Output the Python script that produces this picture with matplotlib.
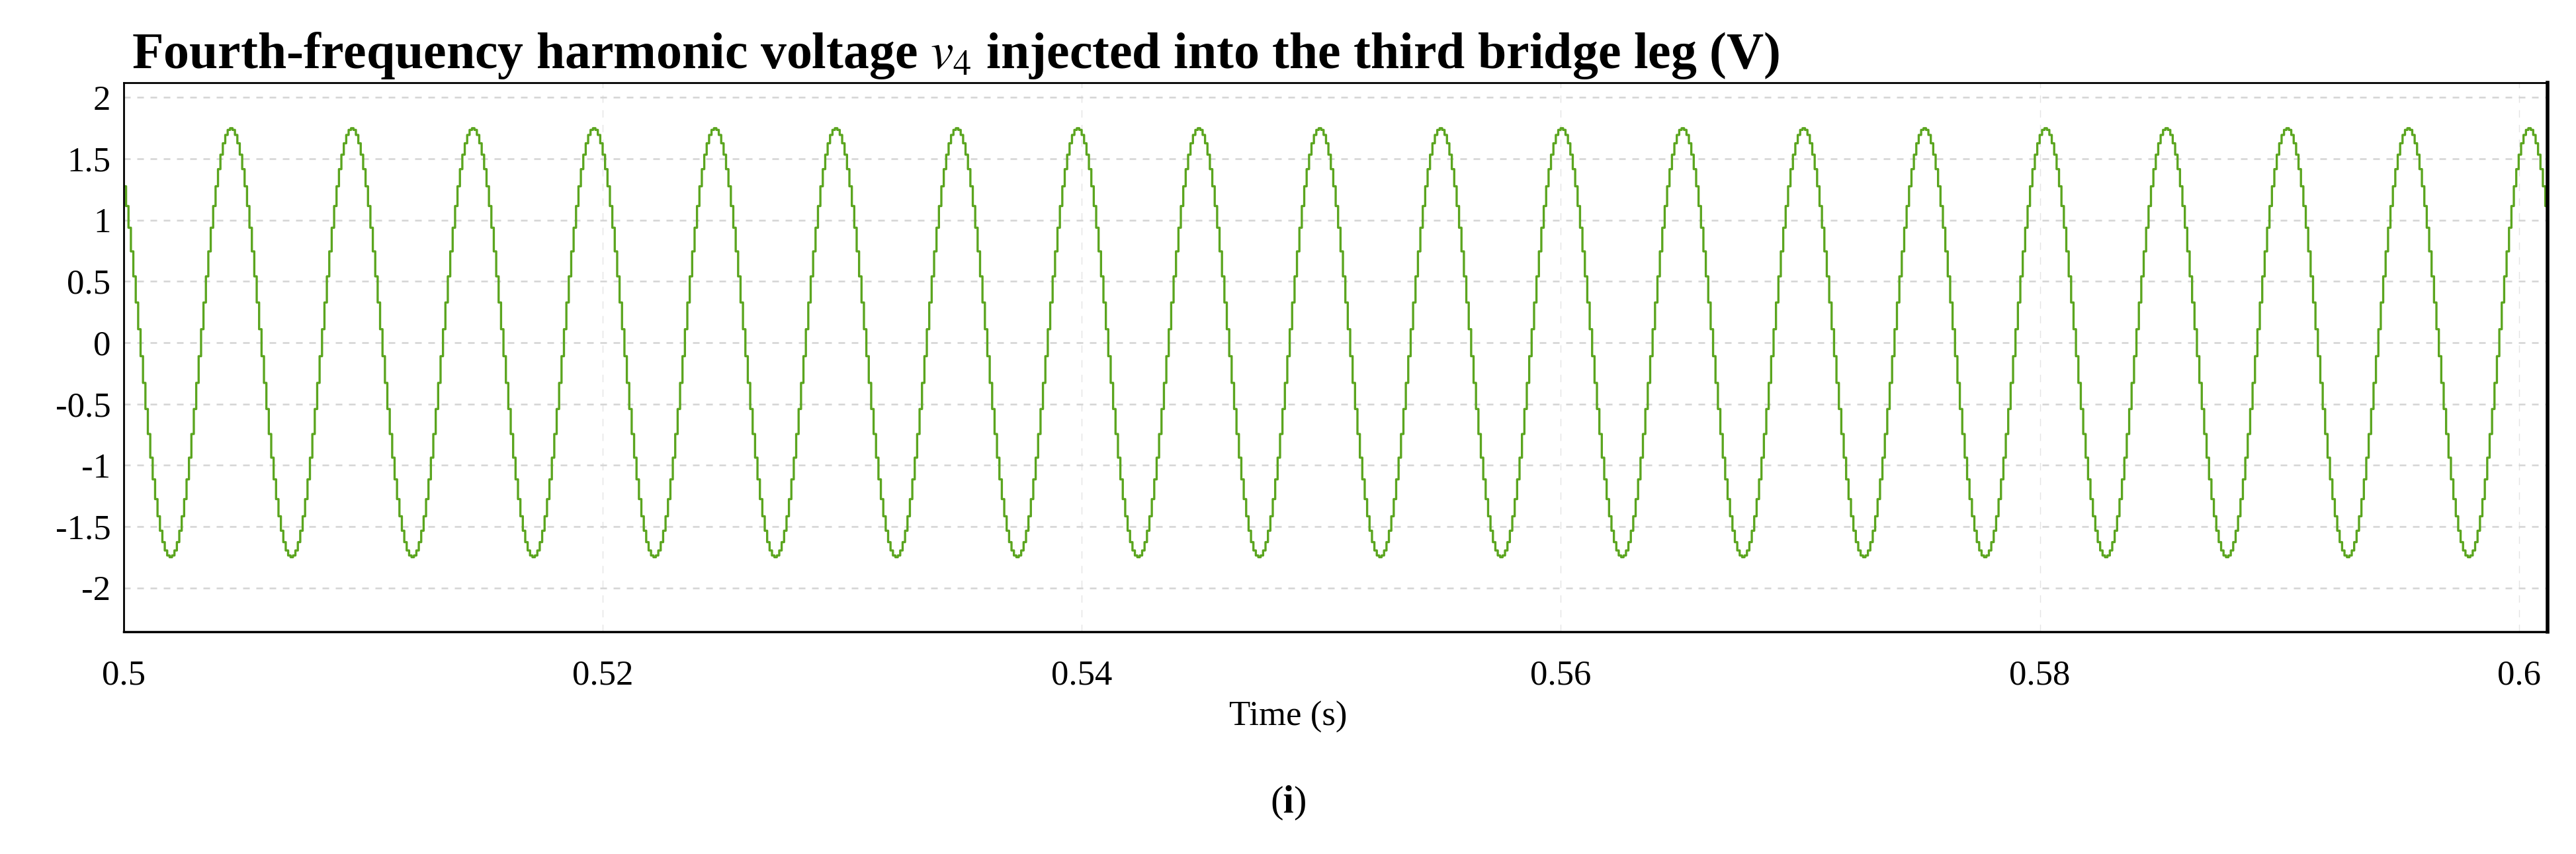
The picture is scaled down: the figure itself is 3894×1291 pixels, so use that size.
import numpy as np
import matplotlib
matplotlib.use("Agg")
import matplotlib.pyplot as plt

plt.rcParams["mathtext.fontset"] = "stix"

cycle_values = [1.75, 1.736, 1.695, 1.627, 1.534, 1.416, 1.276, 1.115, 0.938, 0.745,
                0.541, 0.328, 0.110, -0.110, -0.328, -0.541, -0.745, -0.938, -1.115, -1.276,
                -1.416, -1.534, -1.627, -1.695, -1.736, -1.75, -1.736, -1.695, -1.627, -1.534,
                -1.416, -1.276, -1.115, -0.938, -0.745, -0.541, -0.328, -0.110, 0.110, 0.328,
                0.541, 0.745, 0.938, 1.115, 1.276, 1.416, 1.534, 1.627, 1.695, 1.736]
n_periods = 21
start_index = 6          # sample of the cycle shown at t = 0.5 s
t_start = 0.5
sample_step = 1.01e-4    # s

y_ticks = [2, 1.5, 1, 0.5, 0, -0.5, -1, -1.5, -2]
x_ticks = [0.5, 0.52, 0.54, 0.56, 0.58, 0.6]
x_tick_labels = ["0.5", "0.52", "0.54", "0.56", "0.58", "0.6"]

v4 = np.roll(np.tile(cycle_values, n_periods), -start_index)
t = t_start + sample_step * np.arange(len(v4))

fig = plt.figure(figsize=(38.94, 12.91), dpi=100)
ax = fig.add_axes([0.048, 0.260, 0.941, 0.643])
ax.step(t, v4, where="post", color="#5ba51f", lw=2.4)

ax.set_xlim(0.5, 0.6012)
ax.set_ylim(-2.36, 2.12)
ax.set_yticks(y_ticks)
ax.set_yticklabels([f"{v:g}" for v in y_ticks])
ax.set_xticks(x_ticks)
ax.set_xticklabels(x_tick_labels)
ax.tick_params(length=0, labelsize=38, pad=14)
for lab in ax.get_xticklabels() + ax.get_yticklabels():
    lab.set_family("Liberation Serif")
ax.tick_params(axis="x", pad=30)

ax.grid(axis="y", color="#d4d4d4", ls=(0, (4, 4)), lw=1.8)
ax.grid(axis="x", color="#e4e4e4", ls=(0, (8, 8)), lw=1.0)
for s in ax.spines.values():
    s.set_linewidth(2)
ax.spines["right"].set_linewidth(4)
ax.spines["bottom"].set_linewidth(2.5)

fig.text(0.051, 0.935, r"Fourth-frequency harmonic voltage $\mathit{v}_{4}$ injected into the third bridge leg (V)",
         fontsize=56, fontweight="bold", family="Liberation Serif", va="center", ha="left")
fig.text(0.5, 0.16, "Time (s)", fontsize=38, family="Liberation Serif", ha="center", va="center")
fig.text(0.5, 0.06, r"($\mathbf{i}$)", fontsize=42, family="Liberation Serif", ha="center", va="center")

fig.savefig("out.png", dpi=100)
